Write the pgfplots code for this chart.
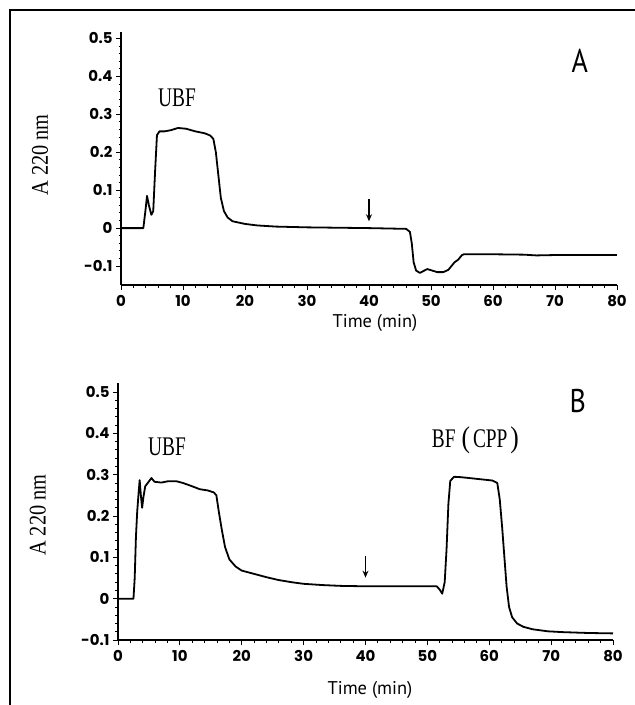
\documentclass[border=0pt]{standalone}
\usepackage{fontspec}
\usepackage{pgfplots}
\pgfplotsset{compat=1.18}
\usetikzlibrary{arrows.meta}
\setmainfont{Liberation Serif}
\newfontfamily\tickfont{Poppins}
\newfontfamily\labelsans[FakeStretch=0.85]{PT Sans}
\newfontfamily\timefont{PT Sans}
\newfontfamily\condserif[FakeStretch=0.72]{Liberation Serif}
\newfontfamily\ylabserif[FakeStretch=0.85]{Liberation Serif}

\tikzset{
  trace/.style={black, line width=1.8bp, line join=round},
  mark arrow/.style={-{Stealth[length=7bp,width=6bp]}, line width=1.2bp},
  serif label/.style={font=\condserif\fontsize{27}{27}\selectfont},
}
\pgfplotsset{
  chrom/.style={
    scale only axis,
    anchor=south west,
    axis x line=bottom, axis y line=left,
    axis line style={-, line width=1.2bp},
    xmin=0, xmax=80,
    xtick={0,10,...,80},
    ytick={-0.1,0,0.1,0.2,0.3,0.4,0.5},
    yticklabels={-0.1,0,0.1,0.2,0.3,0.4,0.5},
    minor x tick num=4, minor y tick num=4,
    tick align=outside,
    major tick length=5bp, minor tick length=2.5bp,
    every tick/.style={black, line width=0.9bp},
    /pgf/number format/assume math mode=true,
    tick label style={font=\tickfont\bfseries\fontsize{15}{15}\selectfont},
    xticklabel style={yshift=-2bp},
    xlabel={Time (min)},
    ylabel={A 220 nm},
    xlabel style={font=\timefont\fontsize{18.5}{18.5}\selectfont, anchor=center},
    ylabel style={font=\ylabserif\fontsize{24}{24}\selectfont, anchor=center},
    clip=false,
  },
}

\begin{document}
\begin{tikzpicture}
\useasboundingbox (0,0) rectangle (635bp,-705bp);
\draw[line width=1.5bp] (10bp,-705bp) -- (10bp,-10bp) -- (635bp,-10bp);

% Panel A
\begin{axis}[chrom,
  at={(121bp,-285bp)}, width=496bp, height=253bp,
  ymin=-0.15, ymax=0.517,
  xlabel style={at={(rel axis cs:0.512,-0.150)}},
  ylabel style={at={(rel axis cs:-0.163,0.514)}},
]
\addplot[trace, no marks] coordinates {
(0,0) (3.6,0) (3.9,0.04) (4.2,0.085) (4.5,0.06) (4.9,0.035) (5.2,0.045)
(5.5,0.15) (5.8,0.245) (6.2,0.255) (7,0.255) (8,0.258) (9.2,0.264)
(10.5,0.262) (12,0.255) (13.5,0.25) (14.4,0.244) (14.9,0.235) (15.3,0.2)
(15.7,0.14) (16.1,0.08) (16.6,0.045) (17.2,0.028) (18,0.018) (20,0.011)
(22,0.007) (25,0.004) (30,0.002) (35,0.001) (40,0) (46,-0.002)
(46.6,-0.01) (46.9,-0.04) (47.2,-0.09) (47.6,-0.112) (48.2,-0.118)
(48.8,-0.113) (49.4,-0.108) (50.2,-0.112) (51,-0.116) (52,-0.116)
(52.8,-0.11) (53.3,-0.1) (53.8,-0.09) (54.4,-0.083) (55,-0.071)
(55.3,-0.069) (60,-0.069) (65,-0.07) (67,-0.072) (70,-0.071) (80,-0.071)
};
\draw[mark arrow] (axis cs:40,0.077) -- (axis cs:40,0.018);
\node[font=\labelsans\fontsize{33}{33}\selectfont] at (rel axis cs:0.925,0.885) {A};
\node[serif label] at (rel axis cs:0.113,0.739) {UBF};
\end{axis}

% Panel B
\begin{axis}[chrom,
  at={(118bp,-640bp)}, width=495bp, height=257bp,
  ymin=-0.1, ymax=0.522,
  xlabel style={at={(rel axis cs:0.509,-0.195)}},
  ylabel style={at={(rel axis cs:-0.162,0.486)}},
]
\addplot[trace, no marks] coordinates {
(0,0) (2.5,0) (2.7,0.05) (2.9,0.15) (3.1,0.21) (3.3,0.25) (3.5,0.287)
(3.7,0.25) (3.9,0.22) (4.1,0.245) (4.4,0.272) (4.8,0.28) (5.4,0.292)
(5.9,0.283) (7,0.281) (8,0.284) (9.5,0.284) (10.5,0.28) (12,0.272)
(13.2,0.265) (14.5,0.262) (15.5,0.257) (15.9,0.25) (16.3,0.21)
(16.8,0.165) (17.3,0.125) (18,0.095) (19,0.078) (20,0.068) (22,0.06)
(24,0.052) (26,0.045) (28,0.04) (30,0.036) (33,0.033) (36,0.031)
(40,0.03) (45,0.03) (51.5,0.03) (52,0.022) (52.4,0.012) (52.8,0.04)
(53.1,0.12) (53.4,0.23) (53.7,0.285) (54.3,0.295) (55.5,0.294) (58,0.29)
(60.5,0.286) (61.3,0.28) (61.7,0.24) (62.1,0.17) (62.5,0.09) (62.8,0.03)
(63.2,-0.02) (63.7,-0.045) (64.5,-0.06) (65.5,-0.068) (67,-0.074)
(69.5,-0.079) (72,-0.081) (76,-0.083) (80,-0.084)
};
\draw[mark arrow] (axis cs:40,0.104) -- (axis cs:40,0.051);
\node[font=\labelsans\fontsize{33}{33}\selectfont] at (rel axis cs:0.929,0.930) {B};
\node[serif label] at (rel axis cs:0.722,0.778)
  {BF\hspace{6bp}{\ylabserif\fontsize{30}{30}\selectfont(}\hspace{3bp}CPP\hspace{3bp}{\ylabserif\fontsize{30}{30}\selectfont)}};
\node[serif label] at (rel axis cs:0.099,0.751) {UBF};
\end{axis}
\end{tikzpicture}
\end{document}
